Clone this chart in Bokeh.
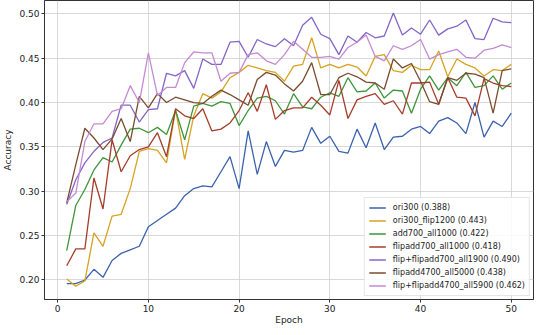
from bokeh.plotting import figure
from bokeh.models import Range1d, FixedTicker, Legend, LegendItem, CustomJSTickFormatter
from bokeh.embed import file_html
from bokeh.resources import INLINE

epochs = list(range(1, 51))

ori300 = [0.196, 0.196, 0.200, 0.212, 0.203, 0.222, 0.230, 0.234, 0.238, 0.260,
          0.267, 0.274, 0.281, 0.295, 0.303, 0.306, 0.305, 0.322, 0.339, 0.303,
          0.368, 0.319, 0.356, 0.328, 0.346, 0.344, 0.346, 0.372, 0.354, 0.362,
          0.345, 0.343, 0.370, 0.349, 0.377, 0.347, 0.361, 0.362, 0.370, 0.373,
          0.365, 0.379, 0.383, 0.377, 0.365, 0.400, 0.361, 0.379, 0.373, 0.388]

ori300_flip1200 = [0.201, 0.193, 0.199, 0.253, 0.238, 0.272, 0.274, 0.303, 0.345, 0.348,
                   0.346, 0.332, 0.392, 0.336, 0.385, 0.410, 0.405, 0.412, 0.428, 0.434,
                   0.442, 0.439, 0.436, 0.434, 0.424, 0.441, 0.443, 0.473, 0.439, 0.443,
                   0.439, 0.443, 0.440, 0.430, 0.452, 0.454, 0.436, 0.434, 0.442, 0.437,
                   0.437, 0.458, 0.429, 0.449, 0.443, 0.439, 0.430, 0.437, 0.436, 0.443]

add700_all1000 = [0.233, 0.284, 0.302, 0.324, 0.338, 0.333, 0.352, 0.370, 0.371, 0.366,
                  0.372, 0.364, 0.391, 0.358, 0.396, 0.399, 0.396, 0.401, 0.399, 0.374,
                  0.391, 0.405, 0.407, 0.402, 0.387, 0.410, 0.395, 0.393, 0.406, 0.411,
                  0.407, 0.428, 0.412, 0.413, 0.422, 0.405, 0.414, 0.413, 0.388, 0.415,
                  0.430, 0.414, 0.428, 0.419, 0.434, 0.417, 0.419, 0.430, 0.415, 0.422]

flipadd700_all1000 = [0.216, 0.235, 0.235, 0.315, 0.280, 0.358, 0.322, 0.340, 0.347, 0.350,
                      0.366, 0.339, 0.393, 0.385, 0.382, 0.393, 0.368, 0.370, 0.377, 0.391,
                      0.411, 0.390, 0.420, 0.381, 0.391, 0.394, 0.394, 0.406, 0.397, 0.386,
                      0.425, 0.382, 0.403, 0.407, 0.410, 0.398, 0.402, 0.387, 0.422, 0.422,
                      0.423, 0.398, 0.428, 0.406, 0.405, 0.385, 0.427, 0.422, 0.419, 0.418]

flip_flipadd700_all1900 = [0.285, 0.313, 0.332, 0.345, 0.355, 0.360, 0.397, 0.397, 0.378, 0.392,
                           0.393, 0.433, 0.430, 0.436, 0.416, 0.449, 0.443, 0.443, 0.468, 0.469,
                           0.451, 0.471, 0.466, 0.463, 0.472, 0.464, 0.487, 0.496, 0.477, 0.472,
                           0.454, 0.475, 0.468, 0.479, 0.473, 0.475, 0.501, 0.476, 0.484, 0.477,
                           0.493, 0.476, 0.483, 0.486, 0.493, 0.472, 0.471, 0.495, 0.491, 0.490]

flipadd4700_all5000 = [0.287, 0.330, 0.371, 0.360, 0.347, 0.359, 0.382, 0.356, 0.407, 0.394,
                       0.410, 0.400, 0.406, 0.403, 0.400, 0.399, 0.407, 0.414, 0.409, 0.403,
                       0.397, 0.426, 0.434, 0.431, 0.421, 0.413, 0.424, 0.445, 0.409, 0.409,
                       0.428, 0.433, 0.429, 0.423, 0.422, 0.415, 0.449, 0.439, 0.444, 0.424,
                       0.401, 0.398, 0.428, 0.425, 0.433, 0.432, 0.428, 0.388, 0.436, 0.438]

flip_flipadd4700_all5900 = [0.288, 0.298, 0.356, 0.376, 0.376, 0.390, 0.393, 0.419, 0.400, 0.456,
                            0.408, 0.417, 0.417, 0.445, 0.457, 0.456, 0.456, 0.424, 0.433, 0.434,
                            0.454, 0.456, 0.447, 0.443, 0.454, 0.469, 0.460, 0.451, 0.451, 0.452,
                            0.449, 0.462, 0.468, 0.476, 0.452, 0.447, 0.464, 0.460, 0.464, 0.471,
                            0.449, 0.454, 0.457, 0.460, 0.451, 0.450, 0.459, 0.461, 0.465, 0.462]

labels = ["ori300 (0.388)", "ori300_flip1200 (0.443)", "add700_all1000 (0.422)",
          "flipadd700_all1000 (0.418)", "flip+flipadd700_all1900 (0.490)",
          "flipadd4700_all5000 (0.438)", "flip+flipadd4700_all5900 (0.462)"]
series = [ori300, ori300_flip1200, add700_all1000, flipadd700_all1000,
          flip_flipadd700_all1900, flipadd4700_all5000, flip_flipadd4700_all5900]
colors = ["#3b62ad", "#d6a323", "#3d963a", "#a53d2a", "#8466c6", "#7a4c2e", "#c58ad2"]

FONT = "DejaVu Sans"

p = figure(width=534, height=327, output_backend="svg", toolbar_location=None,
           x_range=Range1d(-1.45, 52.45), y_range=Range1d(0.178, 0.515),
           min_border_left=2, min_border_right=1, min_border_top=0, min_border_bottom=0)

items = []
for lab, ys, c in zip(labels, series, colors):
    r = p.line(epochs, ys, line_color=c, line_width=1.3)
    items.append(LegendItem(label=lab, renderers=[r]))

legend = Legend(items=items, location="bottom_right")
legend.label_text_font = FONT
legend.label_text_font_size = "8px"
legend.label_text_color = "#222222"
legend.label_height = 11
legend.glyph_height = 11
legend.glyph_width = 17
legend.label_standoff = 7
legend.spacing = 2
legend.padding = 4
legend.margin = 3
legend.border_line_color = "#cccccc"
legend.background_fill_alpha = 0.85
p.add_layout(legend)

p.xaxis.ticker = FixedTicker(ticks=[0, 10, 20, 30, 40, 50])
p.yaxis.ticker = FixedTicker(ticks=[0.20, 0.25, 0.30, 0.35, 0.40, 0.45, 0.50])
p.yaxis.formatter = CustomJSTickFormatter(code="return tick.toFixed(2);")

p.xaxis.axis_label = "Epoch"
p.yaxis.axis_label = "Accuracy"
for ax in (p.xaxis, p.yaxis):
    ax.axis_label_text_font = FONT
    ax.axis_label_text_font_size = "9px"
    ax.axis_label_text_font_style = "normal"
    ax.axis_label_text_color = "#222222"
    ax.major_label_text_font = FONT
    ax.major_label_text_font_size = "9px"
    ax.major_label_text_color = "#222222"
    ax.minor_tick_line_color = None
    ax.major_tick_in = 0
    ax.major_tick_out = 3
    ax.axis_line_color = "#333333"
    ax.major_tick_line_color = "#333333"
    ax.major_label_standoff = 2
p.xaxis.axis_label_standoff = 0
p.yaxis.axis_label_standoff = 3

p.outline_line_color = "#333333"
p.outline_line_alpha = 1.0
p.xgrid.grid_line_color = "#cfcfcf"
p.ygrid.grid_line_color = "#cfcfcf"
p.xgrid.grid_line_width = 0.8
p.ygrid.grid_line_width = 0.8

open("out.html", "w").write(file_html(p, INLINE))
